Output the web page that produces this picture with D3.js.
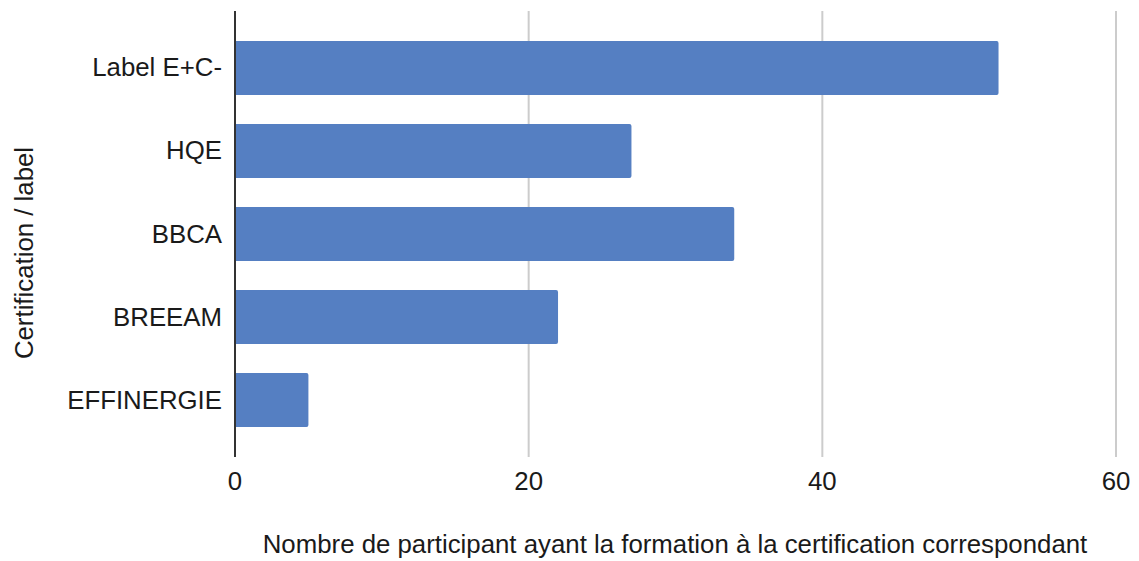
<!DOCTYPE html>
<html>
<head>
<meta charset="utf-8">
<script src="https://cdn.jsdelivr.net/npm/d3@7"></script>
<style>
  body { margin: 0; background: #fff; }
  svg { display: block; font-family: "Liberation Sans", Arial, sans-serif; }
</style>
</head>
<body>
<svg id="chart" width="1139" height="561"></svg>
<script>
const categories = ["Label E+C-", "HQE", "BBCA", "BREEAM", "EFFINERGIE"];
const values = [52, 27, 34, 22, 5];
const xTicks = [0, 20, 40, 60];

const svg = d3.select("#chart");
const plotLeft = 235, plotRight = 1116, plotTop = 11, plotBottom = 457;
const fontSize = 25.8;

const x = d3.scaleLinear().domain([0, 60]).range([plotLeft, plotRight]);
const y = d3.scaleBand().domain(categories).range([plotTop, plotBottom])
    .paddingInner(0.35).paddingOuter(0.36);

// gridlines
svg.append("g")
    .selectAll("line")
    .data(xTicks.filter(d => d > 0))
    .enter().append("line")
    .attr("x1", d => x(d)).attr("x2", d => x(d))
    .attr("y1", plotTop).attr("y2", plotBottom)
    .attr("stroke", "#cccccc")
    .attr("stroke-width", 2);

// bars (slightly rounded at the end)
svg.append("g")
    .selectAll("path")
    .data(values)
    .enter().append("path")
    .attr("fill", "#557fc2")
    .attr("d", (d, i) => {
        const x0 = x(0), x1 = x(d), y0 = y(categories[i]), h = y.bandwidth(), r = 2;
        return `M${x0},${y0}H${x1 - r}Q${x1},${y0} ${x1},${y0 + r}V${y0 + h - r}Q${x1},${y0 + h} ${x1 - r},${y0 + h}H${x0}Z`;
    });

// zero axis line
svg.append("line")
    .attr("x1", x(0)).attr("x2", x(0))
    .attr("y1", plotTop).attr("y2", plotBottom)
    .attr("stroke", "#333333")
    .attr("stroke-width", 2);

// x tick labels
svg.append("g")
    .selectAll("text")
    .data(xTicks)
    .enter().append("text")
    .attr("x", d => x(d))
    .attr("y", 490)
    .attr("text-anchor", "middle")
    .attr("font-size", fontSize)
    .attr("fill", "#1a1a1a")
    .text(d => d);

// y category labels
svg.append("g")
    .selectAll("text")
    .data(categories)
    .enter().append("text")
    .attr("x", 222)
    .attr("y", d => y(d) + y.bandwidth() / 2)
    .attr("dy", "0.33em")
    .attr("text-anchor", "end")
    .attr("font-size", fontSize)
    .attr("fill", "#1a1a1a")
    .text(d => d);

// axis titles
svg.append("text")
    .attr("x", 675)
    .attr("y", 553)
    .attr("text-anchor", "middle")
    .attr("font-size", fontSize)
    .attr("fill", "#1a1a1a")
    .text("Nombre de participant ayant la formation à la certification correspondant");

svg.append("text")
    .attr("transform", "translate(33,253) rotate(-90)")
    .attr("text-anchor", "middle")
    .attr("font-size", fontSize)
    .attr("fill", "#1a1a1a")
    .text("Certification / label");
</script>
</body>
</html>
